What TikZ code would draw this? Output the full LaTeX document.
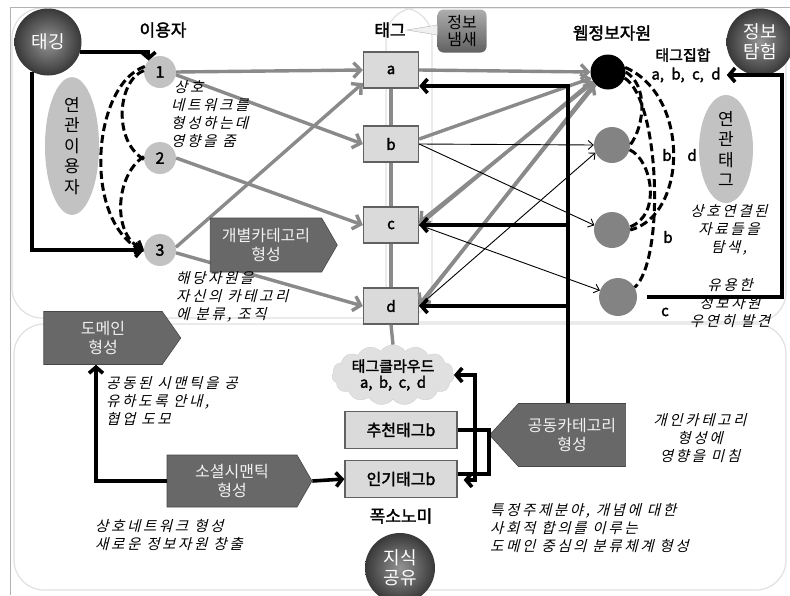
\documentclass[tikz,border=0pt]{standalone}
\usepackage{fontspec}
\setmainfont{Noto Sans CJK KR}[AutoFakeBold=2]
\newfontfamily\notefont{Noto Sans CJK KR}[FakeSlant=0.25,LetterSpace=18]
\usepackage{tikz}
\usetikzlibrary{arrows.meta,shapes.symbols,shapes.geometric}

\definecolor{usergray}{HTML}{C2C2C2}
\definecolor{resgray}{HTML}{838383}
\definecolor{tagfill}{HTML}{DADADA}
\definecolor{linegray}{HTML}{8A8A8A}
\definecolor{signalgray}{HTML}{686868}

\begin{document}
\begin{tikzpicture}[x=1pt,y=-1pt,
    panel/.style={draw=black!12,line width=1.2pt,rounded corners=30pt},
    darkball/.style={circle,inner color=black!42,outer color=black!78,text=white,minimum size=67pt,inner sep=0pt,align=center,font=\fontsize{18}{20}\selectfont},
    usernode/.style={circle,fill=usergray,minimum size=32pt,inner sep=0pt,font=\bfseries\fontsize{16}{16}\selectfont},
    resnode/.style={circle,fill=resgray,minimum size=36pt,inner sep=0pt},
    tagbox/.style={draw=black!62,fill=tagfill,line width=1.3pt,minimum width=55pt,minimum height=36pt,inner sep=0pt,font=\bfseries\fontsize{15}{15}\selectfont},
    headlabel/.style={font=\bfseries\fontsize{17}{17}\selectfont,inner sep=1pt},
    letter/.style={font=\bfseries\fontsize{15}{15}\selectfont,inner sep=0pt},
    note/.style={font=\notefont\fontsize{14.5}{18}\selectfont,align=left,inner sep=0pt},
    ovalnote/.style={ellipse,fill=usergray,minimum width=54pt,minimum height=108pt,inner sep=0pt,align=center,font=\fontsize{17}{20.5}\selectfont},
    sigbox/.style={signal,fill=signalgray,draw=black!72,line width=0.6pt,text=black!5,align=center,font=\fontsize{16}{19}\selectfont,inner sep=2pt},
    grayarrow/.style={draw=linegray,line width=3.4pt,-{Straight Barb[length=7pt,width=15pt]}},
    thinarrow/.style={draw=black,line width=0.9pt,-{Straight Barb[length=5pt,width=9pt]}},
    blackarrow/.style={draw=black,line width=3.6pt,-{Straight Barb[length=6pt,width=14pt]}},
    plainline/.style={draw=black,line width=3.6pt},
    dashlink/.style={draw=black,line width=3pt,dash pattern=on 8pt off 4pt}
]
    \useasboundingbox (0,0) rectangle (790,595);
    \draw[panel] (12,8) rectangle (432,318);
    \draw[panel] (386,8) rectangle (786,322);
    \draw[panel] (14,324) rectangle (786,590);
    \draw[black!30,line width=1pt] (10,595) -- (10,7) -- (790,7);

    \node[darkball] (tagging) at (48,42) {태깅};
    \node[headlabel] (userLabel) at (163,30) {이용자};
    \node[usernode] (user1) at (160,72) {1};
    \node[usernode] (user2) at (160,158) {2};
    \node[usernode] (user3) at (160,250) {3};
    \node[ovalnote] (relUsers) at (72,146) {연\\관\\이\\용\\자};

    \node[headlabel] (tagLabel) at (390,30) {태그};
    \node[tagbox] (tagA) at (391,70) {a};
    \node[tagbox] (tagB) at (391,144) {b};
    \node[tagbox] (tagC) at (391,225) {c};
    \node[tagbox] (tagD) at (391,306) {d};
    \node[rounded corners=6pt,top color=black!32,bottom color=black!62,minimum width=49pt,minimum height=43pt,inner sep=0pt,align=center,font=\fontsize{16}{17}\selectfont] (scent) at (462,31) {정보\\냄새};
    \draw[black!30,fill=black!6] ([yshift=6pt]scent.west) -- (tagLabel.east) -- ([yshift=-4pt]scent.west) -- cycle;

    \node[headlabel] (resLabel) at (612,33) {웹정보자원};
    \node[resnode,fill=black,minimum size=35pt] (resTop) at (608,72) {};
    \node[resnode] (res2) at (612,145) {};
    \node[resnode] (res3) at (612,230) {};
    \node[resnode,minimum size=38pt] (res4) at (618,297) {};
    \node[letter] (tagSet) at (683,55) {태그집합};
    \node[letter] (tagList) at (686,75) {a,\hspace{4pt} b,\hspace{4pt} c,\hspace{4pt} d};
    \node[darkball] (explore) at (760,42) {정보\\탐험};
    \node[ovalnote] (relTags) at (726,149) {연\\관\\태\\그};

    \node[cloud,cloud puffs=15,cloud puff arc=110,aspect=2.4,fill=black!12,draw=black!18,inner sep=0pt,minimum width=122pt,minimum height=50pt,align=center,font=\bfseries\fontsize{15}{16}\selectfont] (cloudTags) at (393,375) {태그클라우드\\a,\hspace{3pt} b,\hspace{3pt} c,\hspace{3pt} d};
    \node[tagbox,minimum width=112pt,minimum height=37pt,font=\bfseries\fontsize{16}{16}\selectfont] (recTag) at (401,430) {추천태그b};
    \node[tagbox,minimum width=112pt,minimum height=37pt,font=\bfseries\fontsize{16}{16}\selectfont] (popTag) at (401,479) {인기태그b};
    \node[headlabel] (folk) at (401,516) {폭소노미};
    \node[darkball,minimum size=70pt] (share) at (400,568) {지식\\공유};

    \draw[linegray,line width=3.4pt] (tagA.south) -- (tagB.north);
    \draw[linegray,line width=3.4pt] (tagB.south) -- (tagC.north);
    \draw[linegray,line width=3.4pt] (tagC.south) -- (tagD.north);
    \draw[linegray,line width=3.4pt] (tagD.south) -- (cloudTags.north);

    \draw[blackarrow] (tagging.-17) -| (user1.135);
    \draw[blackarrow] (tagging.-118) |- (user3.west);
    \draw[dashlink] (user1.175) .. controls (118,80) and (112,140) .. (user2.185);
    \draw[dashlink,-{Straight Barb[length=6pt,width=12pt]}] (user2.175) .. controls (115,175) and (112,235) .. (user3.178);
    \draw[dashlink,-{Straight Barb[length=6pt,width=12pt]}] (user1.160) .. controls (92,85) and (82,220) .. (user3.185);

    \draw[grayarrow] (user1.east) -- (tagA.west);
    \draw[grayarrow] (user1.-10) -- (tagB.west);
    \draw[grayarrow] (user2.east) -- (tagC.west);
    \draw[grayarrow] (user3.10) -- (tagA.205);
    \draw[grayarrow] (user3.-10) -- (tagD.west);

    \draw[grayarrow] (tagA.east) -- (resTop.west);
    \draw[grayarrow] (tagB.10) -- (resTop.200);
    \draw[grayarrow] (tagC.east) -- (resTop.210);
    \draw[grayarrow] (resTop.215) -- (tagC.5);
    \draw[grayarrow] (tagD.east) -- (resTop.220);
    \draw[grayarrow] (resTop.225) -- (tagD.3);
    \draw[thinarrow] (tagB.east) -- (res2.west);
    \draw[thinarrow] (tagB.east) -- (res3.165);
    \draw[thinarrow] (tagD.east) -- (res2.205);
    \draw[thinarrow] (tagC.east) -- (res4.160);

    \draw[dashlink] (resTop.east) .. controls (648,85) and (645,125) .. (res2.east);
    \draw[dashlink] (resTop.-20) .. controls (660,100) and (665,260) .. (res4.30);
    \draw[dashlink] (resTop.15) .. controls (690,95) and (688,215) .. (res3.east);
    \draw[dashlink] (res2.-15) .. controls (652,160) and (662,215) .. (res3.10);
    \node[letter] (linkB1) at (667,155) {b};
    \node[letter] (linkD) at (692,155) {d};
    \node[letter] (linkB2) at (668,237) {b};
    \node[letter] (linkC) at (665,312) {c};

    \coordinate (exploreTurn) at (782,297);
    \draw[blackarrow] ([xshift=10pt]res4.east) -- (exploreTurn) |- ([xshift=6pt]tagList.east);

    \node[sigbox,signal to=east,signal pointer angle=120,minimum width=127pt,minimum height=54pt] (ownCat) at (266,245) {개별카테고리\\형성};
    \node[sigbox,signal to=east,signal pointer angle=110,minimum width=137pt,minimum height=53pt] (domain) at (103,338) {도메인\\형성};
    \node[sigbox,signal to=east,signal pointer angle=120,minimum width=145pt,minimum height=52pt] (socialSem) at (232,481) {소셜시맨틱\\형성};
    \node[sigbox,signal to=west,signal pointer angle=95,minimum width=136pt,minimum height=63pt] (commonCat) at (572,435) {공동카테고리\\형성};

    \draw[blackarrow] ([xshift=-4pt]commonCat.north) |- ([yshift=-16pt]tagA.east);
    \draw[blackarrow] ([xshift=-4pt]commonCat.north |- tagC.east) -- (tagC.east);
    \draw[blackarrow] ([xshift=-4pt]commonCat.north |- tagD.east) -- (tagD.east);

    \draw[blackarrow] (socialSem.east) -- (popTag.west);
    \draw[blackarrow] (socialSem.west) -| ([xshift=-7pt]domain.south);
    \draw[plainline] (recTag.east) -- (recTag.east -| commonCat.west) |- ([yshift=5pt]popTag.east);
    \coordinate (cloudSplit) at (475,430);
    \draw[blackarrow] (cloudSplit) |- (cloudTags.east);
    \draw[blackarrow] (cloudSplit) |- ([xshift=6pt,yshift=-1pt]popTag.east);

    \node[note,anchor=north west] (noteNet) at (171,80) {\hspace{3pt}상호\\네트워크를\\형성하는데\\영향을 줌};
    \node[note,anchor=north west] (noteOwn) at (176,271) {해당자원을\\자신의 카테고리\\에 분류, 조직};
    \node[note,anchor=north west] (noteDomain) at (106,376) {공동된 시맨틱을 공\\유하도록 안내,\\협업 도모};
    \node[note,anchor=north west] (noteSocial) at (95,519) {상호네트워크 형성\\새로운 정보자원 창출};
    \node[note,align=center] (noteCommon) at (700,438) {개인카테고리\\형성에\\영향을 미침};
    \node[note,anchor=north west] (noteFolk) at (490,503) {특정주제분야, 개념에 대한\\사회적 합의를 이루는\\도메인 중심의 분류체계 형성};
    \node[note,align=center] (noteLinked) at (729,230) {상호연결된\\자료들을\\탐색,};
    \node[note,align=center] (noteFound) at (730,303) {유용한\\정보자원\\우연히 발견};
\end{tikzpicture}
\end{document}
